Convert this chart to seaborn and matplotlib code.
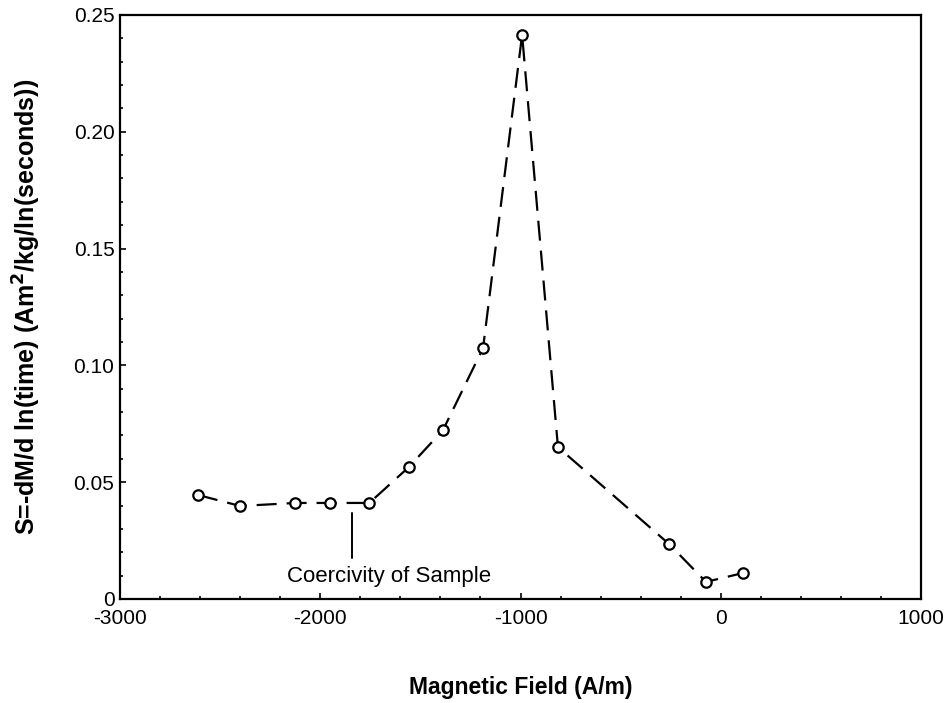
import seaborn as sns
import matplotlib.pyplot as plt
from matplotlib.ticker import MultipleLocator
import pandas as pd

# values
field = [-2610, -2400, -2125, -1950, -1755, -1557, -1387, -1187, -992, -813, -258, -74, 111]
viscosity = [0.0445, 0.0398, 0.0411, 0.0411, 0.0411, 0.0565, 0.0723, 0.1074, 0.2415, 0.0650, 0.0235, 0.0073, 0.0111]
coercivity = -1841
yticks = [0, 0.05, 0.10, 0.15, 0.20, 0.25]
ytick_labels = ['0', '0.05', '0.10', '0.15', '0.20', '0.25']

data = pd.DataFrame({'field': field, 'S': viscosity})

sns.set_style('ticks')
plt.rcParams['font.family'] = ['Liberation Sans', 'DejaVu Sans']
plt.rcParams['axes.unicode_minus'] = False
plt.rcParams['text.color'] = 'black'
plt.rcParams['axes.labelcolor'] = 'black'
plt.rcParams['xtick.color'] = 'black'
plt.rcParams['ytick.color'] = 'black'
plt.rcParams['axes.edgecolor'] = 'black'

fig = plt.figure(figsize=(9.5, 7.03), dpi=100)
ax = fig.add_axes([0.1263, 0.148, 0.8432, 0.8307])

sns.lineplot(data=data, x='field', y='S', ax=ax, sort=False, color='black',
             linewidth=1.6, marker='o', markersize=7.5, markerfacecolor='white',
             markeredgecolor='black', markeredgewidth=1.6)
ax.lines[0].set_linestyle((0, (9, 4.5)))

# coercivity marker
ax.plot([coercivity, coercivity], [0.0176, 0.0368], color='black', linewidth=1.4)
ax.text(-1655, 0.0094, 'Coercivity of Sample', ha='center', va='center', fontsize=16)

ax.set_xlim(-3000, 1000)
ax.set_ylim(0, 0.25)
ax.xaxis.set_major_locator(MultipleLocator(1000))
ax.xaxis.set_minor_locator(MultipleLocator(200))
ax.yaxis.set_minor_locator(MultipleLocator(0.01))
ax.set_yticks(yticks)
ax.set_yticklabels(ytick_labels)
ax.tick_params(which='both', direction='in', labelsize=15, width=1.2)
ax.tick_params(which='major', length=4)
ax.tick_params(which='minor', length=2)
ax.tick_params(axis='y', pad=4)
ax.tick_params(axis='x', pad=7)
for s in ax.spines.values():
    s.set_linewidth(1.6)

ax.set_xlabel('Magnetic Field (A/m)', fontsize=16.5, fontweight='bold', labelpad=35)
ax.set_ylabel('S=-dM/d ln(time) (Am$^\\mathbf{2}$/kg/ln(seconds))', fontsize=18,
              fontweight='bold', labelpad=22)

plt.savefig('out.png', dpi=100)
